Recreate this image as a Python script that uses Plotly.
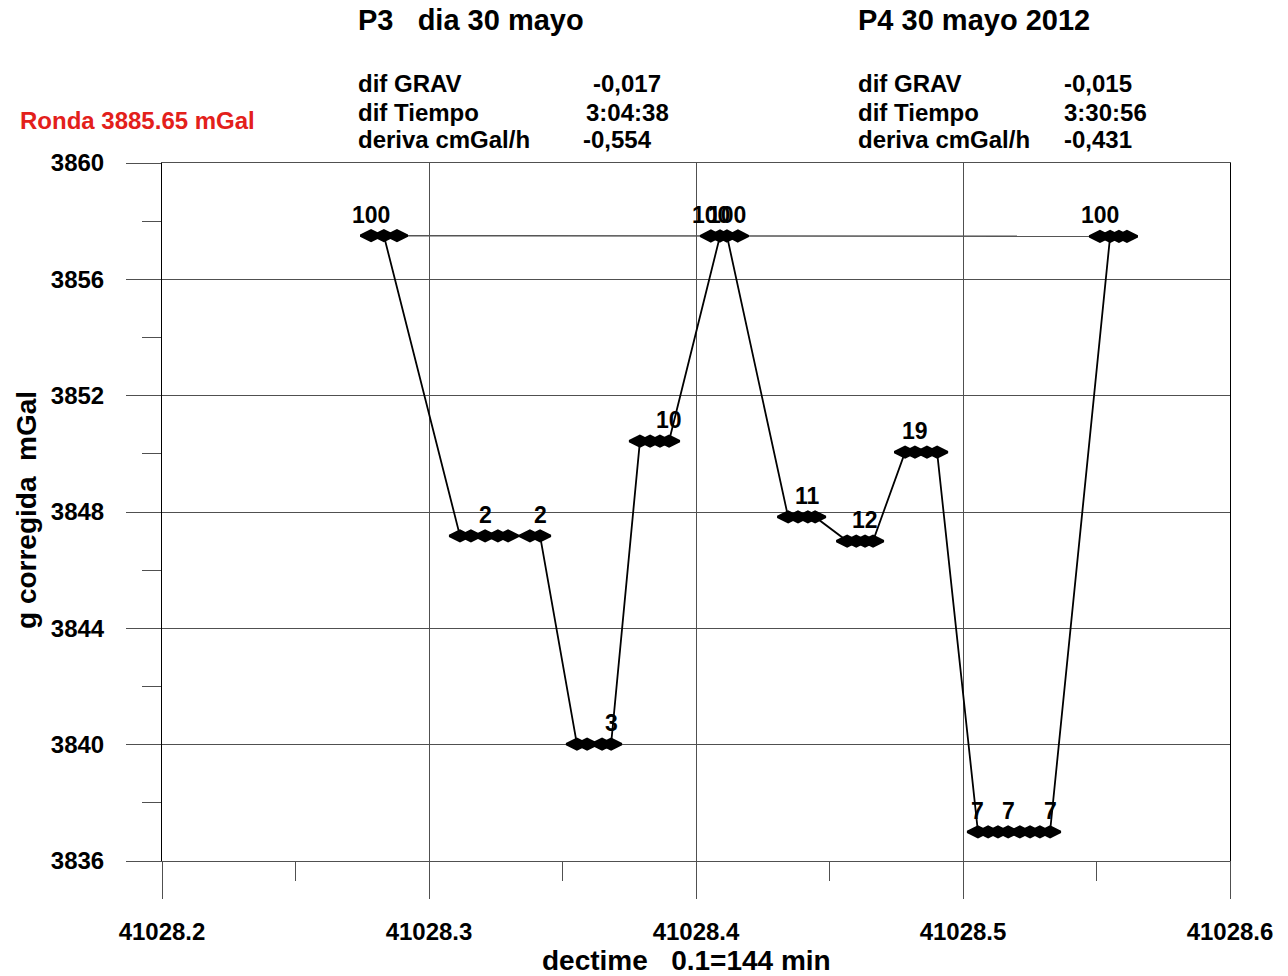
import plotly.graph_objects as go

# Gravity readings per station (time in decimal days, corrected g in mGal)
st100a_t = [41028.2783, 41028.2880, 41028.2831]
st100a_g = [3857.50, 3857.50, 3857.50]
st2_t = [41028.3116, 41028.3157, 41028.3210, 41028.3258, 41028.3296, 41028.3378, 41028.3416]
st2_g = [3847.18, 3847.18, 3847.18, 3847.18, 3847.18, 3847.18, 3847.18]
st3_t = [41028.3554, 41028.3592, 41028.3648, 41028.3682]
st3_g = [3840.02, 3840.02, 3840.02, 3840.02]
st10_t = [41028.3790, 41028.3828, 41028.3865, 41028.3899]
st10_g = [3850.44, 3850.44, 3850.44, 3850.44]
st100b_t = [41028.4090, 41028.4056, 41028.4157, 41028.4116]
st100b_g = [3857.49, 3857.49, 3857.49, 3857.49]
st11_t = [41028.4345, 41028.4382, 41028.4419, 41028.4446]
st11_g = [3847.83, 3847.83, 3847.83, 3847.83]
st12_t = [41028.4566, 41028.4600, 41028.4633, 41028.4663]
st12_g = [3847.00, 3847.00, 3847.00, 3847.00]
st19_t = [41028.4783, 41028.4820, 41028.4865, 41028.4903]
st19_g = [3850.06, 3850.06, 3850.06, 3850.06]
st7_t = [41028.5056, 41028.5094, 41028.5131, 41028.5169, 41028.5213, 41028.5251, 41028.5288, 41028.5326]
st7_g = [3837.00, 3837.00, 3837.00, 3837.00, 3837.00, 3837.00, 3837.00, 3837.00]
st100c_t = [41028.5551, 41028.5513, 41028.5614, 41028.5584]
st100c_g = [3857.48, 3857.48, 3857.48, 3857.48]

# Station labels attached to readings ("" = unlabeled)
st100a_lab = ["100", "", ""]
st2_lab = ["", "", "2", "", "", "", "2"]
st3_lab = ["", "", "", "3"]
st10_lab = ["", "", "", "10"]
st100b_lab = ["", "100", "", "100"]
st11_lab = ["", "", "11", ""]
st12_lab = ["", "", "12", ""]
st19_lab = ["", "19", "", ""]
st7_lab = ["7", "", "", "7", "", "", "", "7"]
st100c_lab = ["", "100", "", ""]

# Base-station drift line
drift_t = [41028.2831, 41028.5584]
drift_g = [3857.50, 3857.483]

# Axis ticks
x_ticks = [41028.2, 41028.3, 41028.4, 41028.5, 41028.6]
y_ticks = [3836, 3840, 3844, 3848, 3852, 3856, 3860]

# Summary blocks
p3_title = "P3\u00a0\u00a0\u00a0dia 30 mayo"
p4_title = "P4 30 mayo 2012"
info_names = ["dif GRAV", "dif Tiempo", "deriva cmGal/h"]
p3_values = ["-0,017", "3:04:38", "-0,554"]
p4_values = ["-0,015", "3:30:56", "-0,431"]
ronda_text = "Ronda 3885.65 mGal"

t_all = (st100a_t + st2_t + st3_t + st10_t + st100b_t + st11_t + st12_t
         + st19_t + st7_t + st100c_t)
g_all = (st100a_g + st2_g + st3_g + st10_g + st100b_g + st11_g + st12_g
         + st19_g + st7_g + st100c_g)
lab_all = (st100a_lab + st2_lab + st3_lab + st10_lab + st100b_lab + st11_lab
           + st12_lab + st19_lab + st7_lab + st100c_lab)

FONT = "Liberation Sans, Arial, sans-serif"
GRID = "#505050"

fig = go.Figure()

fig.add_trace(go.Scatter(
    x=drift_t, y=drift_g, mode="lines",
    line=dict(color="#555555", width=1.5),
    hoverinfo="skip", showlegend=False,
))

fig.add_trace(go.Scatter(
    x=t_all, y=g_all, mode="lines+markers",
    line=dict(color="black", width=1.8),
    marker=dict(symbol="diamond-wide", size=15, color="black",
                line=dict(color="black", width=2.5)),
    showlegend=False,
))

annotations = []
for t, g, lab in zip(t_all, g_all, lab_all):
    if lab:
        annotations.append(dict(
            x=t, y=g, xref="x", yref="y", text=f"<b>{lab}</b>",
            showarrow=False, yshift=21, xanchor="center", yanchor="middle",
            font=dict(family=FONT, size=23, color="black"),
        ))

# Plot area in pixels: x 162..1230, y 163..861
def px(xp):
    return (xp - 162) / 1068.0

def py(yp):
    return (861 - yp) / 698.0

def txt(x, y, s, size, xanchor="left", color="black", angle=0):
    annotations.append(dict(
        x=x, y=y, xref="paper", yref="paper", text=f"<b>{s}</b>",
        showarrow=False, xanchor=xanchor, yanchor="middle", textangle=angle,
        font=dict(family=FONT, size=size, color=color),
    ))

txt(px(356), py(20), p3_title, 29)
txt(px(856), py(20), p4_title, 29)
rows_y = [84, 112, 140]
p3_val_x = [591, 584, 581]
for i, name in enumerate(info_names):
    txt(px(356), py(rows_y[i]), name, 24)
    txt(px(p3_val_x[i]), py(rows_y[i]), p3_values[i], 24)
    txt(px(856), py(rows_y[i]), name, 24)
    txt(px(1062), py(rows_y[i]), p4_values[i], 24)
txt(px(18), py(120), ronda_text, 24, color="#e3201b")
txt(px(26), py(510), "g corregida\u00a0\u00a0mGal", 28, xanchor="center", angle=-90)
txt(px(686), py(960), "dectime\u00a0\u00a0\u00a00.1=144 min", 28, xanchor="center")

fig.update_layout(
    width=1288, height=976,
    margin=dict(l=162, r=58, t=163, b=115, pad=0),
    paper_bgcolor="white", plot_bgcolor="white",
    annotations=annotations,
    font=dict(family=FONT, color="black"),
)

fig.update_xaxes(
    range=[41028.2, 41028.6], tickvals=x_ticks,
    ticktext=[f"<b>{v:.1f}</b>" for v in x_ticks],
    tickfont=dict(family=FONT, size=24, color="black"),
    showgrid=True, gridcolor=GRID, gridwidth=1,
    ticks="outside", ticklen=37, tickcolor=GRID, tickwidth=1,
    minor=dict(dtick=0.05, tick0=41028.2, ticks="outside", ticklen=19,
               tickcolor=GRID, tickwidth=1, showgrid=False),
    showline=True, linecolor=GRID, linewidth=1, mirror=True,
    zeroline=False, ticklabelstandoff=12,
)
fig.update_yaxes(
    range=[3836, 3860], tickvals=y_ticks,
    ticktext=[f"<b>{v}</b>" for v in y_ticks],
    tickfont=dict(family=FONT, size=24, color="black"),
    showgrid=True, gridcolor=GRID, gridwidth=1,
    ticks="outside", ticklen=35, tickcolor=GRID, tickwidth=1,
    minor=dict(dtick=2, tick0=3836, ticks="outside", ticklen=19,
               tickcolor=GRID, tickwidth=1, showgrid=False),
    showline=True, linecolor="black", linewidth=1, mirror=True,
    zeroline=False, ticklabelstandoff=17,
)

fig.write_html("out.html")
